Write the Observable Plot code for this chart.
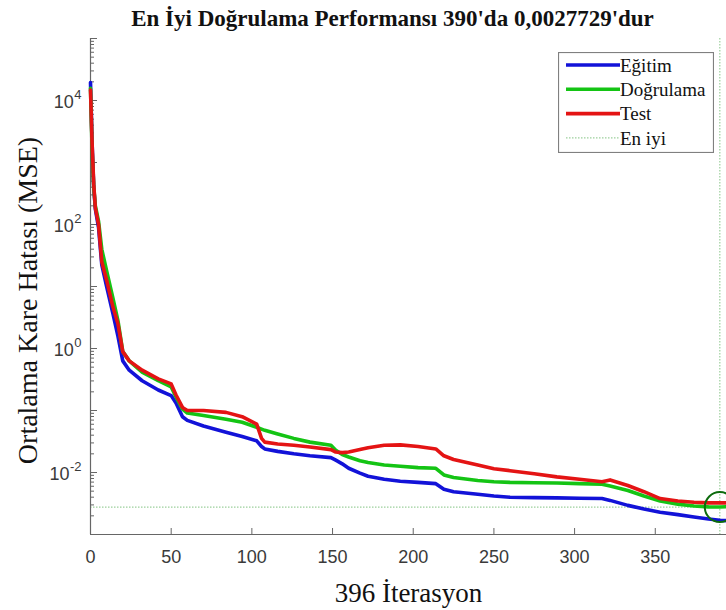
<!DOCTYPE html>
<html>
<head>
<meta charset="utf-8">
<script src="https://cdn.jsdelivr.net/npm/d3@7"></script>
<script src="https://cdn.jsdelivr.net/npm/@observablehq/plot@0.6"></script>
<style>
  html, body { margin: 0; padding: 0; background: #fff; }
  #chart { position: relative; width: 726px; height: 610px; overflow: hidden; background: #fff; }
  #legend { position: absolute; left: 558px; top: 52px; }
</style>
</head>
<body>
<div id="chart"></div>
<script>
// Training record: mean squared error per iteration for each data split
const iterations = [0, 1, 2, 3, 5, 7, 10, 14, 17, 20, 24, 32, 42, 50, 53, 57, 60, 70, 84, 94, 103, 106, 108, 116, 126, 136, 149, 152, 156, 160, 167, 172, 182, 192, 203, 214, 219, 225, 240, 250, 260, 275, 289, 303, 317, 322, 333, 343, 353, 364, 374, 383, 390, 396];

const trainMSE = [19500, 2000, 398, 178, 89.1, 22.4, 10, 3.55, 1.58, 0.631, 0.447, 0.302, 0.214, 0.174, 0.132, 0.0794, 0.0692, 0.0562, 0.0447, 0.0380, 0.0324, 0.0263, 0.0240, 0.0219, 0.0200, 0.0186, 0.0174, 0.0158, 0.0138, 0.0117, 0.00977, 0.00871, 0.00776, 0.00724, 0.00692, 0.00661, 0.00537, 0.00490, 0.00447, 0.00417, 0.00398, 0.00394, 0.00389, 0.00385, 0.00380, 0.00355, 0.00295, 0.00257, 0.00229, 0.00209, 0.00191, 0.00178, 0.00170, 0.00166];

const validationMSE = [15800, 1580, 398, 200, 112, 39.8, 17.8, 6.31, 2.82, 0.891, 0.631, 0.417, 0.302, 0.240, 0.166, 0.105, 0.0912, 0.0832, 0.0724, 0.0646, 0.0537, 0.0501, 0.0479, 0.0417, 0.0355, 0.0309, 0.0275, 0.0229, 0.0195, 0.0178, 0.0155, 0.0145, 0.0132, 0.0126, 0.0120, 0.0117, 0.00912, 0.00832, 0.00741, 0.00708, 0.00692, 0.00684, 0.00676, 0.00661, 0.00646, 0.00603, 0.00513, 0.00417, 0.00347, 0.00309, 0.00288, 0.00279, 0.0027729, 0.00281];

const testMSE = [14800, 2000, 447, 186, 100, 25.1, 12.6, 4.57, 2.51, 0.891, 0.631, 0.447, 0.324, 0.269, 0.178, 0.112, 0.100, 0.100, 0.0933, 0.0794, 0.0603, 0.0355, 0.0309, 0.0288, 0.0275, 0.0257, 0.0234, 0.0214, 0.0209, 0.0214, 0.0234, 0.0251, 0.0275, 0.0279, 0.0263, 0.0240, 0.0186, 0.0162, 0.0132, 0.0115, 0.0107, 0.00955, 0.00851, 0.00776, 0.00708, 0.00759, 0.00617, 0.00490, 0.00380, 0.00347, 0.00331, 0.00324, 0.00324, 0.00324];

const bestIteration = 390;
const bestPerformance = 0.0027729;
const totalIterations = 396;

const seriesNames = ["Eğitim", "Doğrulama", "Test"];
const seriesColors = ["#1212d8", "#14c414", "#e41414"];
const bestLabel = "En iyi";
const bestColor = "#9ccf9c";
const circleColor = "#0d6b0d";

const titleText = "En İyi Doğrulama Performansı 390'da 0,0027729'dur";
const xLabelText = "396 İterasyon";
const yLabelText = "Ortalama Kare Hatası (MSE)";

const xTicks = [0, 50, 100, 150, 200, 250, 300, 350];
const yLabelTicks = [1e-2, 1e0, 1e2, 1e4];
const yTickBase = "10";
const yTickExponents = ["-2", "0", "2", "4"];
const yDecades = [1e-3, 1e-2, 1e-1, 1e0, 1e1, 1e2, 1e3, 1e4, 1e5];

// log-axis minor tick positions (2..9 × each decade)
const yMinorTicks = [];
for (const d of yDecades.slice(0, -1)) for (let m = 2; m <= 9; m++) yMinorTicks.push(m * d);

const rows = [trainMSE, validationMSE, testMSE].flatMap((vals, s) =>
  iterations.map((it, i) => ({ it, mse: vals[i], series: seriesNames[s] }))
);

const W = 726, H = 610;
const mL = 90, mR = 0, mT = 38, mB = 76;
const frameW = W - mL - mR, frameH = H - mT - mB;

const sans = "'Liberation Sans', Arial, sans-serif";
const serif = "'Liberation Serif', 'Times New Roman', serif";
const axisColor = "#666";
const tickTextColor = "#3a3a3a";

// measure the superscript so each "10^n" label right-aligns as one unit
const ctx = document.createElement("canvas").getContext("2d");
ctx.font = `13px ${sans}`;
const expWidths = yTickExponents.map(e => ctx.measureText(e).width);

const yLabelMarks = yLabelTicks.flatMap((t, i) => [
  Plot.text([t], { y: d => d, frameAnchor: "left", text: () => yTickBase, textAnchor: "end", lineAnchor: "middle",
    dx: -9 - expWidths[i] - 0.5, dy: 2, fontSize: 18, fill: tickTextColor, fontFamily: sans }),
  Plot.text([t], { y: d => d, frameAnchor: "left", text: () => yTickExponents[i], textAnchor: "end", lineAnchor: "middle",
    dx: -9, dy: -6, fontSize: 13, fill: tickTextColor, fontFamily: sans })
]);

const plot = Plot.plot({
  width: W, height: H,
  marginLeft: mL, marginRight: mR, marginTop: mT, marginBottom: mB,
  x: { domain: [0, totalIterations], range: [mL, mL + 639], axis: null },
  y: { type: "log", domain: [1e-3, 1e5], axis: null },
  color: { domain: seriesNames, range: seriesColors },
  style: { background: "#fff", overflow: "hidden", fontFamily: sans },
  marks: [
    // best-performance guides
    Plot.ruleY([bestPerformance], { stroke: bestColor, strokeWidth: 1.2, strokeDasharray: "1.5,1.5" }),
    Plot.ruleX([bestIteration], { stroke: bestColor, strokeWidth: 1.2, strokeDasharray: "1.5,1.5" }),
    // axis lines
    Plot.ruleX([0], { stroke: axisColor, strokeWidth: 1.2 }),
    Plot.ruleY([1e-3], { stroke: axisColor, strokeWidth: 1.2 }),
    // inward tick marks
    Plot.ruleY(yMinorTicks, { y: d => d, insetRight: frameW - 4, stroke: axisColor }),
    Plot.ruleY(yDecades, { y: d => d, insetRight: frameW - 7, stroke: axisColor }),
    Plot.ruleX(xTicks, { x: d => d, insetTop: frameH - 6, stroke: axisColor }),
    // tick labels
    Plot.text(xTicks, { x: d => d, frameAnchor: "bottom", lineAnchor: "middle", dy: 23, fontSize: 18,
      fill: tickTextColor, fontFamily: sans }),
    ...yLabelMarks,
    // performance curves
    Plot.line(rows, { x: "it", y: "mse", z: "series", stroke: "series", strokeWidth: 3.6,
      strokeLinejoin: "round", strokeLinecap: "round" }),
    // best validation point
    Plot.dot([{ it: bestIteration, mse: bestPerformance }], { x: "it", y: "mse", r: 15,
      stroke: circleColor, strokeWidth: 2, fill: "none" }),
    // titles
    Plot.text([titleText], { frameAnchor: "top", textAnchor: "middle", lineAnchor: "middle", dx: -16, dy: -20,
      fontSize: 23, fontWeight: "bold", fontFamily: serif, fill: "#111" }),
    Plot.text([xLabelText], { frameAnchor: "bottom", textAnchor: "middle", lineAnchor: "middle", dy: 59,
      fontSize: 27, fontFamily: serif, fill: "#111" }),
    Plot.text([yLabelText], { frameAnchor: "left", textAnchor: "middle", lineAnchor: "middle", dx: -62, dy: 14,
      rotate: -90, fontSize: 28, fontFamily: serif, fill: "#111" })
  ]
});

const chart = document.getElementById("chart");
chart.appendChild(plot);

// legend box
const legendItems = [
  ...seriesNames.map((n, i) => ({ name: n, color: seriesColors[i], width: 3.6, dash: null })),
  { name: bestLabel, color: bestColor, width: 1.2, dash: "1.5,1.5" }
];
const lw = 156, lh = 101;
const legend = d3.select(chart).append("svg")
  .attr("id", "legend").attr("width", lw).attr("height", lh);
legend.append("rect").attr("x", 0.5).attr("y", 0.5).attr("width", lw - 1).attr("height", lh - 1)
  .attr("fill", "#fff").attr("stroke", "#808080").attr("stroke-width", 1.2);
const rowY = i => 13 + i * 24.3;
const item = legend.selectAll("g").data(legendItems).join("g")
  .attr("transform", (d, i) => `translate(0,${rowY(i)})`);
item.append("line").attr("x1", 8).attr("x2", 62).attr("y1", 0).attr("y2", 0)
  .attr("stroke", d => d.color).attr("stroke-width", d => d.width)
  .attr("stroke-dasharray", d => d.dash);
item.append("text").attr("x", 62).attr("y", 0).attr("dy", "0.35em")
  .attr("font-family", serif).attr("font-size", 19).attr("fill", "#111")
  .text(d => d.name);
</script>
</body>
</html>
